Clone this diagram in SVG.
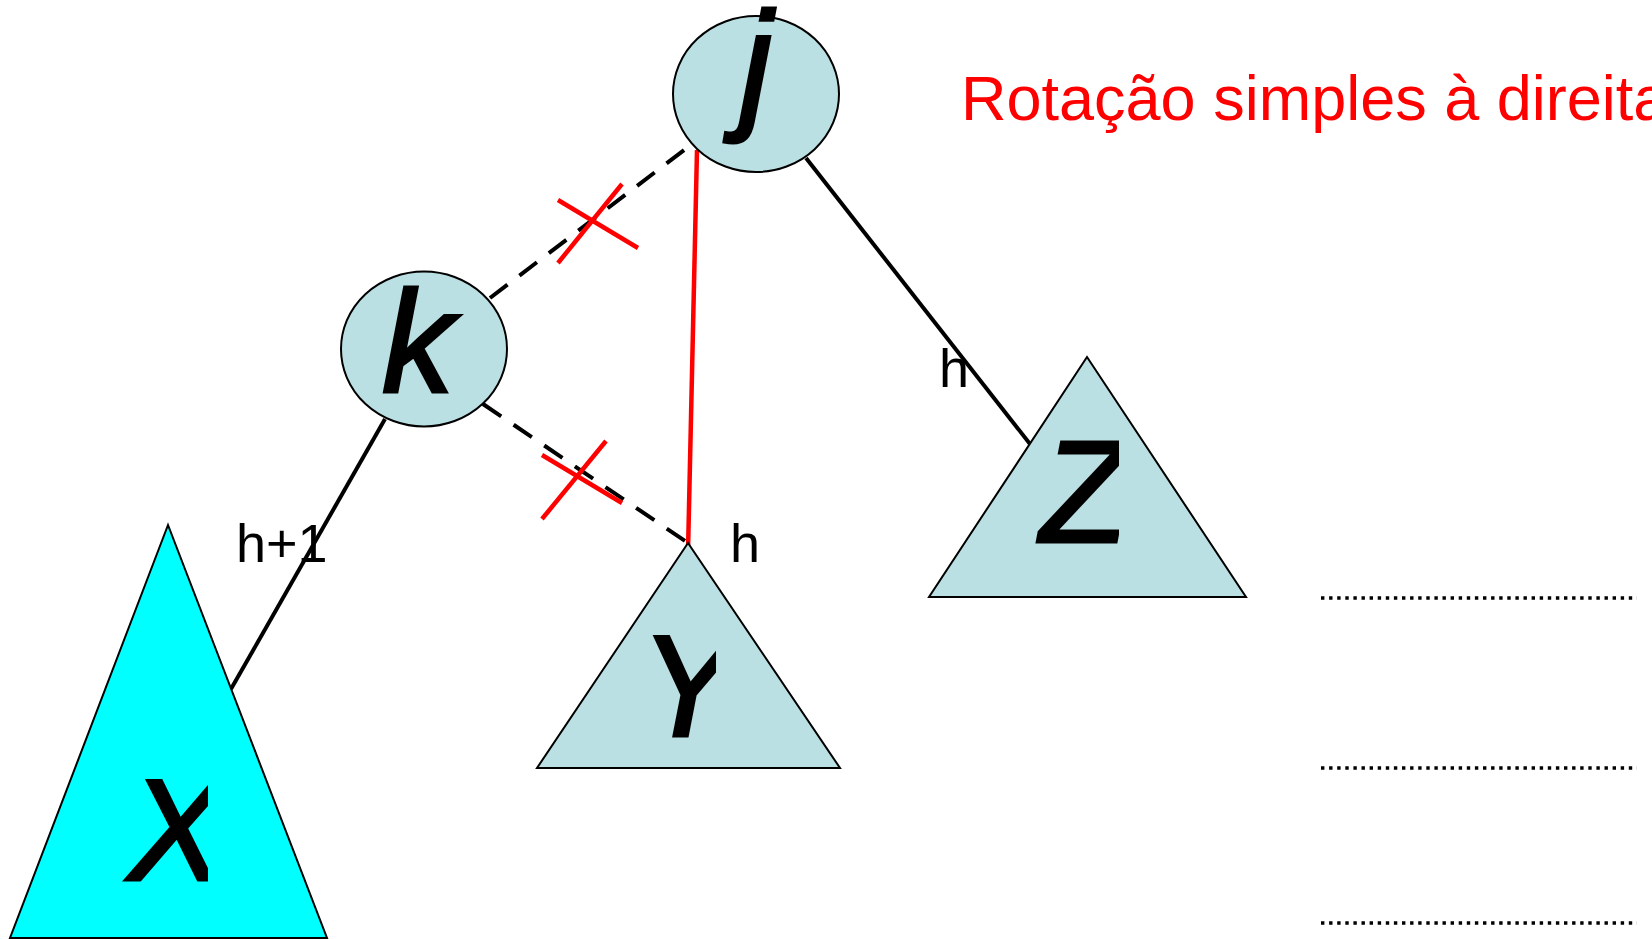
<svg xmlns="http://www.w3.org/2000/svg" width="1652" height="939" viewBox="0 0 1652 939">
<style>
.node{fill:#BBE0E3;stroke:#000;stroke-width:2}
.big{font-family:"Liberation Sans",Arial,sans-serif;font-style:italic;font-size:144px;fill:#000;stroke:#000;stroke-width:3;stroke-linejoin:miter}
.lbl{font-family:"Liberation Sans",Arial,sans-serif;font-size:54px;fill:#000}
.edge{stroke:#000;stroke-width:4;fill:none}
.dash{stroke:#000;stroke-width:4;stroke-dasharray:22 15;fill:none}
.red{stroke:#FF0000;stroke-width:4.5;fill:none}
.dots{stroke:#000;stroke-width:3.4;stroke-dasharray:3.4 4.7;fill:none}
</style>
<defs>
<clipPath id="cX"><rect x="0" y="500" width="208" height="439"/></clipPath>
<clipPath id="cY"><rect x="500" y="540" width="216" height="230"/></clipPath>
<clipPath id="cZ"><rect x="900" y="350" width="219" height="250"/></clipPath>
</defs>
<rect width="1652" height="939" fill="#fff"/>
<g id="connectors">
<line class="edge" x1="806" y1="158" x2="1030" y2="444"/>
<line class="edge" x1="385" y1="419" x2="231" y2="689"/>
<line class="dash" x1="490" y1="298" x2="692" y2="144"/>
<line class="dash" x1="483" y1="404" x2="688" y2="543"/>
<line class="red" x1="697" y1="150" x2="688" y2="552"/>
<line class="red" x1="558" y1="200" x2="638" y2="248"/>
<line class="red" x1="622" y1="184" x2="558" y2="263"/>
<line class="red" x1="542" y1="455" x2="622" y2="503"/>
<line class="red" x1="606" y1="441" x2="542" y2="519"/>
</g>
<g id="node-X">
<polygon points="168,525 10,938 327,938" fill="#00FFFF" stroke="#000" stroke-width="2"/>
<text class="big" x="128" y="880" clip-path="url(#cX)">X</text>
</g>
<g id="node-Y">
<polygon class="node" points="688,543 537,768 840,768"/>
<text class="big" x="640" y="736" clip-path="url(#cY)">Y</text>
</g>
<g id="node-Z">
<polygon class="node" points="1087,357 929,597 1246,597"/>
<text class="big" x="1040" y="542" clip-path="url(#cZ)">Z</text>
</g>
<g id="node-j">
<ellipse class="node" cx="756" cy="94" rx="83" ry="78"/>
<text class="big" x="740" y="113">j</text>
</g>
<g id="node-k">
<ellipse class="node" cx="424" cy="349" rx="83" ry="77.5"/>
<text class="big" x="382" y="392">k</text>
</g>
<g id="labels">
<text class="lbl" x="236" y="562">h+1</text>
<text class="lbl" x="730" y="562">h</text>
<text class="lbl" x="939" y="387">h</text>
<text x="961" y="120" font-family="Liberation Sans,Arial,sans-serif" font-size="63" fill="#FF0000">Rotação simples à direita</text>
</g>
<g id="dotted-lines">
<line class="dots" x1="1321" y1="598" x2="1637" y2="598"/>
<line class="dots" x1="1321" y1="768" x2="1637" y2="768"/>
<line class="dots" x1="1321" y1="923" x2="1637" y2="923"/>
</g>
</svg>
